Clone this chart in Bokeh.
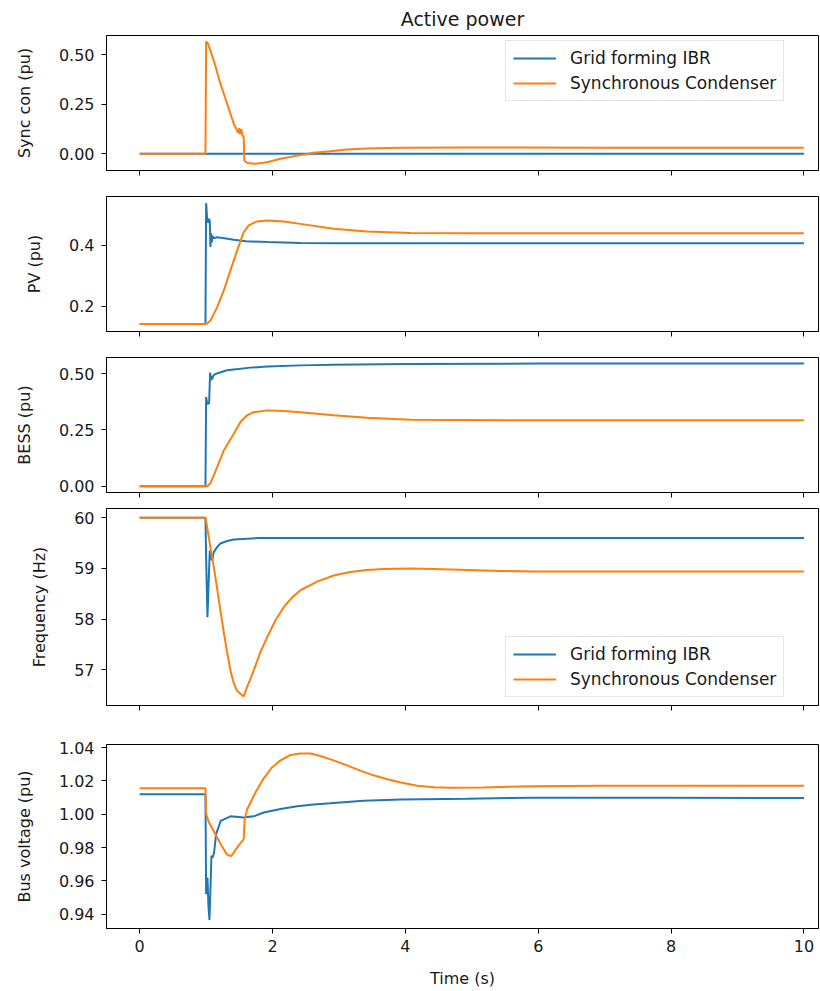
from bokeh.plotting import figure
from bokeh.layouts import column
from bokeh.models import Range1d, FixedTicker
from bokeh.embed import file_html
from bokeh.resources import INLINE

BLUE = "#1f77b4"
ORANGE = "#ff7f0e"
SERIES = ["Grid forming IBR", "Synchronous Condenser"]
TITLE = "Active power"
X_LABEL = "Time (s)"
X_TICKS = [0, 2, 4, 6, 8, 10]
X_TICK_LABELS = ["0", "2", "4", "6", "8", "10"]

# ---- Panel 1: Sync con (pu)
sync_label = "Sync con (pu)"
sync_ticks = [0.0, 0.25, 0.5]
sync_tick_labels = ["0.00", "0.25", "0.50"]
sync_t_ibr = [0, 1.0, 10]
sync_ibr = [0.0, 0.0, 0.0]
sync_t_sc = [0, 0.99, 1.0, 1.03, 1.115, 1.215, 1.316, 1.416, 1.466, 1.48, 1.50, 1.51, 1.53, 1.545, 1.566,
             1.575, 1.62, 1.74, 1.92, 2.12, 2.37, 2.62, 2.87, 3.12, 3.42, 3.93, 5, 7, 10]
sync_sc = [0.0, 0.0, 0.567, 0.555, 0.471, 0.354, 0.253, 0.152, 0.118, 0.105, 0.13, 0.10, 0.125, 0.095, 0.084,
           -0.035, -0.046, -0.05, -0.042, -0.025, -0.009, 0.005, 0.013, 0.022, 0.027, 0.031, 0.032, 0.031, 0.031]

# ---- Panel 2: PV (pu)
pv_label = "PV (pu)"
pv_ticks = [0.2, 0.4]
pv_tick_labels = ["0.2", "0.4"]
pv_t_ibr = [0, 0.99, 1.0, 1.015, 1.03, 1.045, 1.055, 1.065, 1.075, 1.085, 1.095, 1.11, 1.165, 1.3, 1.416,
            1.6, 1.92, 2.42, 3.0, 4.0, 6.0, 10]
pv_ibr = [0.142, 0.142, 0.539, 0.49, 0.475, 0.488, 0.478, 0.395, 0.44, 0.41, 0.432, 0.424, 0.427, 0.423, 0.419,
          0.414, 0.411, 0.408, 0.407, 0.407, 0.407, 0.407]
pv_t_sc = [0, 1.0, 1.015, 1.065, 1.115, 1.166, 1.266, 1.366, 1.467, 1.566, 1.642, 1.767, 1.92, 2.17, 2.42,
           2.92, 3.42, 4.08, 5, 6, 10]
pv_sc = [0.142, 0.142, 0.143, 0.153, 0.175, 0.197, 0.252, 0.318, 0.384, 0.444, 0.466, 0.479, 0.482, 0.479,
         0.471, 0.455, 0.446, 0.441, 0.44, 0.44, 0.44]

# ---- Panel 3: BESS (pu)
bess_label = "BESS (pu)"
bess_ticks = [0.0, 0.25, 0.5]
bess_tick_labels = ["0.00", "0.25", "0.50"]
bess_t_ibr = [0, 0.99, 1.0, 1.015, 1.03, 1.045, 1.06, 1.07, 1.08, 1.09, 1.11, 1.15, 1.316, 1.416, 1.667,
              1.92, 2.42, 2.92, 4, 6, 10]
bess_ibr = [0.0, 0.0, 0.396, 0.37, 0.365, 0.37, 0.505, 0.47, 0.49, 0.475, 0.492, 0.5, 0.515, 0.519, 0.527,
            0.532, 0.537, 0.54, 0.543, 0.545, 0.545]
bess_t_sc = [0, 1.0, 1.015, 1.065, 1.165, 1.266, 1.416, 1.516, 1.617, 1.717, 1.92, 2.17, 2.42, 2.92, 3.42,
             4.08, 6, 10]
bess_sc = [0.0, 0.0, 0.0, 0.013, 0.085, 0.159, 0.233, 0.285, 0.315, 0.329, 0.337, 0.334, 0.329, 0.315,
           0.304, 0.295, 0.293, 0.293]

# ---- Panel 4: Frequency (Hz)
freq_label = "Frequency (Hz)"
freq_ticks = [57, 58, 59, 60]
freq_tick_labels = ["57", "58", "59", "60"]
freq_t_ibr = [0, 0.99, 1.0, 1.02, 1.04, 1.055, 1.075, 1.09, 1.115, 1.165, 1.215, 1.316, 1.416, 1.8, 3, 10]
freq_ibr = [60, 60, 59.2, 58.04, 58.8, 59.35, 59.2, 59.16, 59.32, 59.42, 59.49, 59.54, 59.57, 59.6, 59.6, 59.6]
freq_t_sc = [0, 0.99, 1.015, 1.065, 1.115, 1.166, 1.215, 1.266, 1.316, 1.366, 1.416, 1.466, 1.516, 1.566,
             1.616, 1.666, 1.717, 1.817, 1.917, 2.04, 2.17, 2.29, 2.42, 2.67, 2.92, 3.17, 3.42, 3.67,
             4.08, 4.43, 4.93, 5.43, 5.93, 7, 10]
freq_sc = [60, 60, 59.81, 59.42, 59.03, 58.6, 58.17, 57.74, 57.35, 56.99, 56.74, 56.59, 56.53, 56.48,
           56.66, 56.82, 56.99, 57.35, 57.64, 57.97, 58.24, 58.42, 58.57, 58.74, 58.86, 58.93, 58.97, 58.99,
           59.0, 58.99, 58.97, 58.95, 58.94, 58.94, 58.94]

# ---- Panel 5: Bus voltage (pu)
bus_label = "Bus voltage (pu)"
bus_ticks = [0.94, 0.96, 0.98, 1.00, 1.02, 1.04]
bus_tick_labels = ["0.94", "0.96", "0.98", "1.00", "1.02", "1.04"]
bus_t_ibr = [0, 0.99, 1.0, 1.02, 1.035, 1.05, 1.065, 1.08, 1.1, 1.12, 1.15, 1.22, 1.366, 1.566, 1.717,
             1.867, 2.12, 2.37, 2.62, 2.87, 3.37, 3.93, 4.93, 5.93, 7.94, 10]
bus_ibr = [1.012, 1.012, 0.952, 0.962, 0.945, 0.9365, 0.955, 0.975, 0.974, 0.977, 0.988, 0.996, 0.9987,
           0.998, 0.9987, 1.001, 1.0031, 1.0047, 1.0058, 1.0065, 1.008, 1.0088, 1.0093, 1.0099, 1.0099, 1.0097]
bus_t_sc = [0, 0.99, 1.0, 1.04, 1.115, 1.215, 1.316, 1.376, 1.416, 1.49, 1.566, 1.58, 1.617, 1.742, 1.867,
            1.99, 2.12, 2.27, 2.42, 2.57, 2.72, 2.92, 3.12, 3.32, 3.52, 3.73, 3.93, 4.18, 4.43, 4.68, 5.18,
            5.93, 6.94, 10]
bus_sc = [1.0155, 1.0155, 1.0, 0.9953, 0.9897, 0.9822, 0.9757, 0.9748, 0.977, 0.9813, 0.985, 0.997, 1.0028,
          1.013, 1.0215, 1.028, 1.0323, 1.0355, 1.0364, 1.0364, 1.0349, 1.0323, 1.0293, 1.0261, 1.0233,
          1.021, 1.019, 1.0171, 1.0162, 1.0159, 1.016, 1.0168, 1.0171, 1.0171]

FONT = "DejaVu Sans"
TXT = "#1a1a1a"


def panel(h, top, bottom, yr, yticks, ylabels, ylabel, t1, y1, t2, y2, legend=None, bottom_axis=False):
    p = figure(width=820, height=h, output_backend="svg", toolbar_location=None,
               x_range=Range1d(-0.5, 10.22), y_range=Range1d(*yr),
               min_border_left=106, min_border_right=2, min_border_top=top, min_border_bottom=bottom)
    p.grid.visible = False
    p.outline_line_color = "black"
    p.outline_line_width = 1
    p.outline_line_alpha = 1
    for ax in (p.xaxis[0], p.yaxis[0]):
        ax.axis_line_color = "black"
        ax.major_tick_line_color = "black"
        ax.minor_tick_line_color = None
        ax.major_tick_in = 0
        ax.major_tick_out = 5
        ax.major_label_text_font = FONT
        ax.major_label_text_font_size = "16px"
        ax.major_label_text_color = TXT
        ax.axis_label_text_font = FONT
        ax.axis_label_text_font_size = "16px"
        ax.axis_label_text_font_style = "normal"
        ax.axis_label_text_color = TXT
    p.xaxis.ticker = FixedTicker(ticks=X_TICKS)
    p.yaxis.ticker = FixedTicker(ticks=yticks)
    p.yaxis.major_label_overrides = dict(zip(yticks, ylabels))
    p.yaxis.major_label_standoff = 7
    p.yaxis.axis_label = ylabel
    p.yaxis.axis_label_standoff = 22
    if bottom_axis:
        p.xaxis.major_label_overrides = dict(zip(X_TICKS, X_TICK_LABELS))
        p.xaxis.axis_label = X_LABEL
        p.xaxis.major_label_standoff = 6
        p.xaxis.axis_label_standoff = 14
    else:
        # shared time axis: tick marks only, labels collapsed
        p.xaxis.major_label_text_font_size = "0px"
        p.xaxis.major_label_standoff = 0
    if legend:
        p.line(t1, y1, color=BLUE, line_width=2, legend_label=SERIES[0])
        p.line(t2, y2, color=ORANGE, line_width=2, legend_label=SERIES[1])
        lg = p.legend[0]
        lg.location = legend
        lg.label_text_font = FONT
        lg.label_text_font_size = "17px"
        lg.label_text_color = TXT
        lg.glyph_width = 43
        lg.glyph_height = 20
        lg.label_height = 20
        lg.label_standoff = 14
        lg.spacing = 5
        lg.padding = 7
        lg.margin = 0
        lg.border_line_color = "#cccccc"
        lg.border_line_width = 1
        lg.background_fill_alpha = 0.8
    else:
        p.line(t1, y1, color=BLUE, line_width=2)
        p.line(t2, y2, color=ORANGE, line_width=2)
    return p


p1 = panel(183, 35, 13, (-0.084, 0.597), sync_ticks, sync_tick_labels, sync_label,
           sync_t_ibr, sync_ibr, sync_t_sc, sync_sc, legend=(399, 69))
p1.title.text = TITLE
p1.title.align = "center"
p1.title.text_font = FONT
p1.title.text_font_size = "19px"
p1.title.text_font_style = "normal"
p1.title.text_color = TXT
p1.title.standoff = 11

p2 = panel(161, 13, 13, (0.117, 0.561), pv_ticks, pv_tick_labels, pv_label,
           pv_t_ibr, pv_ibr, pv_t_sc, pv_sc)
p3 = panel(156, 13, 8, (-0.028, 0.572), bess_ticks, bess_tick_labels, bess_label,
           bess_t_ibr, bess_ibr, bess_t_sc, bess_sc)
p4 = panel(224, 8, 19, (56.3, 60.18), freq_ticks, freq_tick_labels, freq_label,
           freq_t_ibr, freq_ibr, freq_t_sc, freq_sc, legend=(399, 8))
p5 = panel(266, 20, 49, (0.9314, 1.0418), bus_ticks, bus_tick_labels, bus_label,
           bus_t_ibr, bus_ibr, bus_t_sc, bus_sc, bottom_axis=True)

layout = column(p1, p2, p3, p4, p5, spacing=0)
open("out.html", "w").write(file_html(layout, INLINE))
